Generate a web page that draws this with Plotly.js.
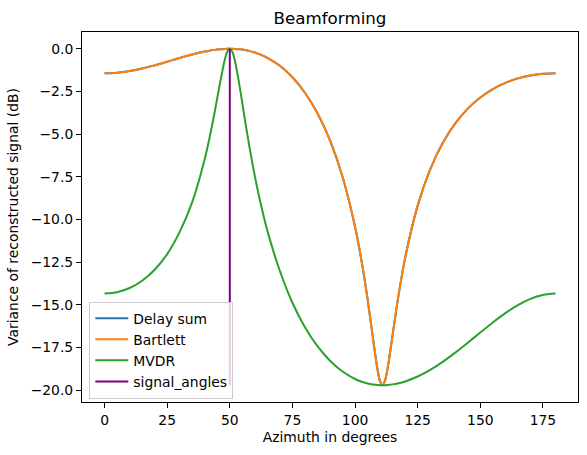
<!DOCTYPE html>
<html>
<head>
<meta charset="utf-8">
<script src="https://cdn.plot.ly/plotly-3.0.1.min.js"></script>
<style>html,body{margin:0;padding:0;background:#fff}#chart{width:587px;height:455px}</style>
</head>
<body>
<div id="chart"></div>
<script>
// Azimuth angles (degrees)
const azimuthDeg = [0,5,10,15,20,25,30,35,40,42,44,46,48,49,50,51,52,54,56,58,60,62,65,70,75,80,85,90,95,100,103,105,107,109,110,111,112,113,115,117,120,125,130,135,140,145,150,155,160,165,170,175,180];

// Delay sum (hidden under Bartlett: identical values)
const delaySumDb = [-1.428,-1.396,-1.302,-1.156,-0.969,-0.757,-0.534,-0.334,-0.162,-0.107,-0.062,-0.029,-0.007,-0.002,0,-0.002,-0.008,-0.032,-0.074,-0.136,-0.218,-0.322,-0.524,-0.996,-1.664,-2.571,-3.774,-5.364,-7.488,-10.423,-12.773,-14.664,-16.789,-18.807,-19.476,-19.698,-19.410,-18.710,-16.752,-14.762,-12.243,-9.185,-7.060,-5.518,-4.369,-3.503,-2.848,-2.356,-1.992,-1.733,-1.559,-1.460,-1.428];

// Bartlett
const bartlettDb = [-1.428,-1.396,-1.302,-1.156,-0.969,-0.757,-0.534,-0.334,-0.162,-0.107,-0.062,-0.029,-0.007,-0.002,0,-0.002,-0.008,-0.032,-0.074,-0.136,-0.218,-0.322,-0.524,-0.996,-1.664,-2.571,-3.774,-5.364,-7.488,-10.423,-12.773,-14.664,-16.789,-18.807,-19.476,-19.698,-19.410,-18.710,-16.752,-14.762,-12.243,-9.185,-7.060,-5.518,-4.369,-3.503,-2.848,-2.356,-1.992,-1.733,-1.559,-1.460,-1.428];

// MVDR
const mvdrDb = [-14.336,-14.255,-14.009,-13.580,-12.936,-12.023,-10.719,-8.979,-6.451,-5.152,-3.670,-2.072,-0.637,-0.171,0,-0.176,-0.673,-2.272,-4.120,-5.878,-7.455,-8.850,-10.647,-13.013,-14.871,-16.303,-17.417,-18.271,-18.902,-19.337,-19.512,-19.596,-19.654,-19.688,-19.697,-19.699,-19.697,-19.687,-19.653,-19.599,-19.481,-19.193,-18.805,-18.332,-17.795,-17.214,-16.616,-16.027,-15.481,-15.010,-14.645,-14.414,-14.336];

// Signal angle marker (vertical line from min to max)
const signalAngle = [50, 50];
const signalSpan = [-19.699, 0];

const xTicks = [0,25,50,75,100,125,150,175];
const yTicks = [0,-2.5,-5,-7.5,-10,-12.5,-15,-17.5,-20];
const yTickText = ['0.0','\u22122.5','\u22125.0','\u22127.5','\u221210.0','\u221212.5','\u221215.0','\u221217.5','\u221220.0'];

const font = 'DejaVu Sans, sans-serif';
const traces = [
  {x: azimuthDeg, y: delaySumDb, name: 'Delay sum', mode: 'lines',
   line: {color: '#1f77b4', width: 2, shape: 'spline', smoothing: 0.8}},
  {x: azimuthDeg, y: bartlettDb, name: 'Bartlett', mode: 'lines',
   line: {color: '#ff7f0e', width: 2, shape: 'spline', smoothing: 0.8}},
  {x: azimuthDeg, y: mvdrDb, name: 'MVDR', mode: 'lines',
   line: {color: '#2ca02c', width: 2, shape: 'spline', smoothing: 0.8}},
  {x: signalAngle, y: signalSpan, name: 'signal_angles', mode: 'lines',
   line: {color: '#800080', width: 2}}
];

const layout = {
  width: 587, height: 455,
  margin: {l: 82, r: 9, t: 32, b: 53, pad: 0},
  paper_bgcolor: '#ffffff', plot_bgcolor: '#ffffff',
  font: {family: font, size: 13.9, color: '#000'},
  showlegend: true,
  title: {text: 'Beamforming', font: {family: font, size: 16.7, color: '#000'},
          x: 0.5, xref: 'paper', y: 1 - 18/455, yref: 'container', yanchor: 'middle'},
  xaxis: {
    range: [-9, 189], tickmode: 'array', tickvals: xTicks, ticktext: xTicks.map(String),
    ticks: 'outside', ticklen: 5, tickwidth: 1, tickcolor: '#000',
    showline: true, linecolor: '#000', linewidth: 1, mirror: true,
    showgrid: false, zeroline: false, automargin: false,
    tickfont: {family: font, size: 13.9, color: '#000'},
    title: {text: 'Azimuth in degrees', font: {family: font, size: 13.9, color: '#000'}, standoff: 5}
  },
  yaxis: {
    range: [-20.685, 0.985], tickmode: 'array', tickvals: yTicks, ticktext: yTickText,
    ticks: 'outside', ticklen: 5, tickwidth: 1, tickcolor: '#000',
    showline: true, linecolor: '#000', linewidth: 1, mirror: true,
    showgrid: false, zeroline: false, automargin: false,
    tickfont: {family: font, size: 13.9, color: '#000'},
    title: {text: 'Variance of reconstructed signal (dB)', font: {family: font, size: 13.9, color: '#000'}, standoff: 8}
  },
  legend: {
    x: 0.0147, y: 0.009, xanchor: 'left', yanchor: 'bottom',
    bgcolor: 'rgba(255,255,255,0.8)', bordercolor: '#cccccc', borderwidth: 1,
    font: {family: font, size: 13.9, color: '#000'},
    itemwidth: 33
  }
};

Plotly.newPlot('chart', traces, layout, {displayModeBar: false, staticPlot: true});
</script>
</body>
</html>
